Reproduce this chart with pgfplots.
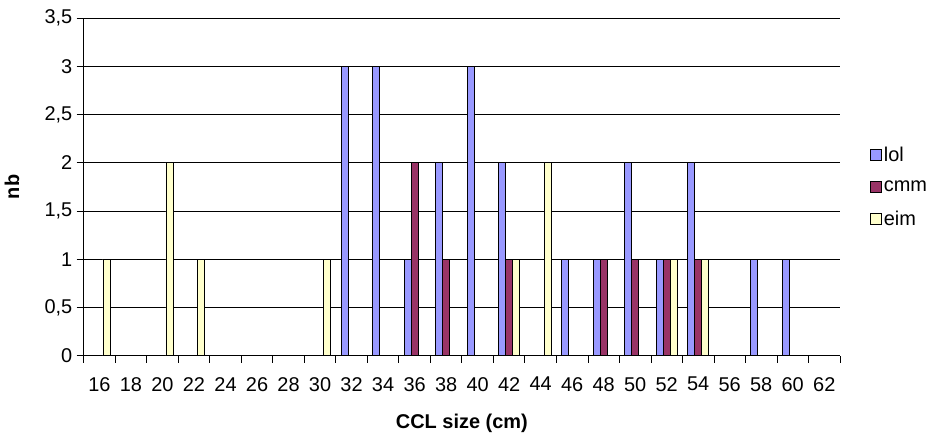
\documentclass[border=0pt]{standalone}
\usepackage{pgfplots}
\pgfplotsset{compat=1.18}
\usepackage{fontspec}
\setmainfont{Liberation Sans}
\definecolor{lol}{HTML}{9999FF}
\definecolor{cmm}{HTML}{993366}
\definecolor{eim}{HTML}{FFFFCC}
\begin{document}
\begin{tikzpicture}
\begin{axis}[
  scale only axis,
  width=759pt, height=339pt,
  ybar=0pt, bar width=7pt,
  xmin=-0.5, xmax=23.5,
  ymin=0, ymax=3.5,
  ytick={0,0.5,...,3.5},
  xtick={0,...,23},
  xticklabels={16,18,20,22,24,26,28,30,32,34,36,38,40,42,44,46,48,50,52,54,56,58,60,62},
  minor xtick={-0.5,0.5,...,23.5},
  major x tick style={draw=none},
  minor tick length=7pt,
  major tick length=7pt,
  tick align=outside,
  axis x line*=bottom, axis y line*=left,
  axis line style={black, line width=0.8pt},
  tick style={black, line width=0.8pt},
  ymajorgrids, grid style={black, line width=0.8pt},
  /pgf/number format/assume math mode=true,
  /pgf/number format/use comma,
  ticklabel style={font=\fontsize{20}{22}\selectfont},
  xticklabel style={yshift=-11pt},
  yticklabel style={xshift=-1pt},
  xlabel={\bfseries CCL size (cm)},
  ylabel={\bfseries nb},
  label style={font=\fontsize{20}{22}\selectfont},
  xlabel style={at={(axis description cs:0.5,0)}, anchor=center, yshift=-68pt},
  ylabel style={at={(axis description cs:0,0.5)}, anchor=center, yshift=72pt},
  legend style={at={(1,0.5)}, anchor=west, xshift=27pt, draw=none, fill=none,
    font=\fontsize{20}{22}\selectfont, row sep=14pt},
  legend cell align=left,
  legend image code/.code={\draw[#1, line width=0.8pt] (0pt,-5.5pt) rectangle (11pt,5.5pt);},
  clip=false,
]
\addplot[fill=lol, draw=black, line width=0.8pt] coordinates {
 (8,3) (9,3) (10,1) (11,2) (12,3) (13,2) (15,1) (16,1) (17,2) (18,1) (19,2) (21,1) (22,1)};
\addplot[fill=cmm, draw=black, line width=0.8pt] coordinates {
 (10,2) (11,1) (13,1) (16,1) (17,1) (18,1) (19,1)};
\addplot[fill=eim, draw=black, line width=0.8pt] coordinates {
 (0,1) (2,2) (3,1) (7,1) (13,1) (14,2) (18,1) (19,1)};
\legend{lol,cmm,eim}
\path (rel axis cs:0,0) ++(-84pt,-81pt) coordinate (bbA);
\path (rel axis cs:0,0) ++(848pt,357pt) coordinate (bbB);
\end{axis}
\path (bbA) rectangle (bbB);
\end{tikzpicture}
\end{document}
